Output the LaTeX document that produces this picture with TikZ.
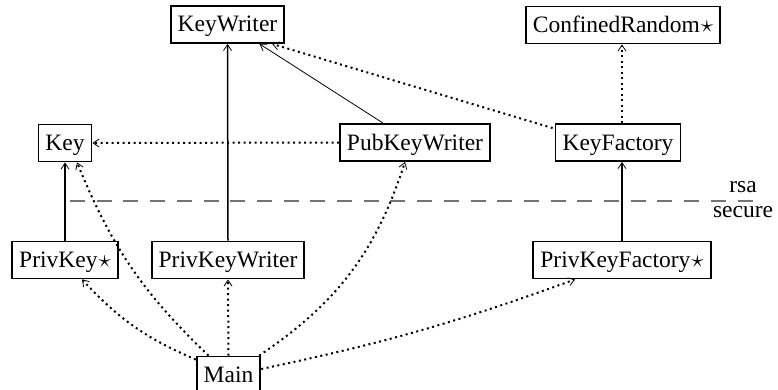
\documentclass[tikz,border=0pt]{standalone}
\usepackage{fontspec}
\setmainfont{Liberation Serif}
\usetikzlibrary{arrows.meta}

\begin{document}
\begin{tikzpicture}[x=1pt,y=1pt,
  every node/.style={font=\fontsize{23.5}{28}\selectfont},
  cls/.style={draw, line width=1.8pt, inner xsep=7pt, inner ysep=0pt,
              text height=20pt, text depth=5pt, minimum height=37pt},
  tip/.style={-{Straight Barb[length=6pt,width=8pt,line width=0.8pt]}},
  inherit/.style={tip, line width=1.5pt},
  thinlink/.style={tip, line width=0.8pt},
  uses/.style={tip, line width=2pt, dash pattern=on 2pt off 3.5pt},
  layer/.style={draw=black!55, line width=1.3pt, dash pattern=on 15pt off 11.7pt}
]
\useasboundingbox (0,0) rectangle (778,-390);

% classes
\node[cls] (kw)   at (227.5,-24.5) {KeyWriter};
\node[cls] (cr)   at (623,-25)     {ConfinedRandom\kern1pt$\star$};
\node[cls] (key)  at (65,-143)     {Key};
\node[cls] (pkw)  at (415,-142.5)  {PubKeyWriter};
\node[cls] (kf)   at (618,-142.5)  {KeyFactory};
\node[cls] (pk)   at (65,-260)     {PrivKey\kern1pt$\star$};
\node[cls] (pvw)  at (228,-260)    {PrivKeyWriter};
\node[cls] (pkf)  at (622,-260)    {PrivKeyFactory\kern1pt$\star$};
\node[cls] (main) at (228.5,-375)  {Main};

% package boundary
\coordinate (bl) at (70,-201);
\coordinate (br) at (753,-201);
\draw[layer] (bl) -- (br);
\node (rsa) at (743,-187) {rsa};
\node (sec) at (743,-212) {secure};

% inheritance
\draw[inherit] (pk.north) -- (key.south);
\draw[inherit] (pvw.north) -- (kw.south);
\draw[inherit] (pkf.north) -- ([xshift=4pt]kf.south);
\draw[thinlink] ([xshift=-32pt]pkw.north) -- ([xshift=32pt]kw.south);

% dependencies
\draw[uses] (pkw.west) -- (key.east);
\draw[uses] ([xshift=-2pt,yshift=-5pt]kf.north west) -- ([xshift=-13pt]kw.south east);
\draw[uses] ([xshift=4pt]kf.north) -- ([xshift=-1pt]cr.south);
\draw[uses] ([xshift=-20pt]main.north) to[bend left=12] ([xshift=12pt]key.south);
\draw[uses] ([yshift=-4pt]main.north west) to[bend left=12] ([xshift=17pt]pk.south);
\draw[uses] (main.north) -- (pvw.south);
\draw[uses] ([xshift=-2pt]main.north east) to[bend right=19] ([xshift=-10pt]pkw.south);
\draw[uses] ([yshift=6pt]main.east) to[bend right=4] ([xshift=-47pt]pkf.south);
\end{tikzpicture}
\end{document}
